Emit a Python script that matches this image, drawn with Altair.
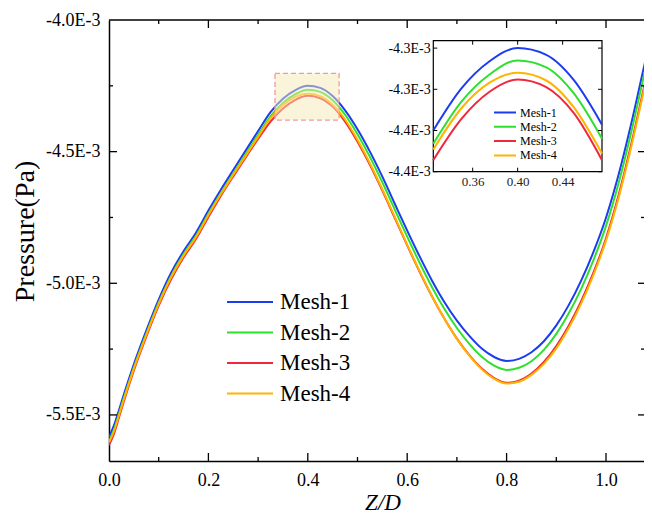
import altair as alt
import pandas as pd

# ---------------- data (pressure in units of 1E-3 Pa) ----------------
z = [0, 0.01, 0.02, 0.03, 0.04, 0.05, 0.075, 0.1, 0.125, 0.15, 0.175, 0.2,
     0.225, 0.25, 0.275, 0.3, 0.325, 0.35, 0.375, 0.4, 0.425, 0.45, 0.475,
     0.5, 0.525, 0.55, 0.575, 0.6, 0.625, 0.65, 0.675, 0.7, 0.725, 0.75,
     0.775, 0.8, 0.825, 0.85, 0.875, 0.9, 0.925, 0.95, 0.975, 1.0, 1.025,
     1.05, 1.075, 1.1]

mesh1 = [-5.584, -5.540, -5.482, -5.422, -5.364, -5.308, -5.180, -5.062, -4.960,
         -4.878, -4.808, -4.724, -4.645, -4.570, -4.496, -4.422, -4.350, -4.299,
         -4.266, -4.250, -4.258, -4.289, -4.343, -4.415, -4.500, -4.595, -4.698,
         -4.800, -4.898, -4.990, -5.072, -5.142, -5.200, -5.248, -5.280, -5.295,
         -5.287, -5.262, -5.220, -5.160, -5.083, -4.990, -4.880, -4.751, -4.590,
         -4.400, -4.190, -3.980]
mesh2 = [-5.600, -5.556, -5.496, -5.435, -5.376, -5.320, -5.192, -5.074, -4.972,
         -4.890, -4.820, -4.736, -4.658, -4.583, -4.510, -4.437, -4.366, -4.315,
         -4.282, -4.265, -4.273, -4.305, -4.360, -4.434, -4.520, -4.617, -4.720,
         -4.823, -4.922, -5.015, -5.098, -5.170, -5.230, -5.279, -5.313, -5.329,
         -5.321, -5.296, -5.253, -5.192, -5.114, -5.021, -4.911, -4.782, -4.622,
         -4.432, -4.222, -4.012]
mesh3 = [-5.614, -5.572, -5.510, -5.448, -5.388, -5.331, -5.203, -5.085, -4.985,
         -4.902, -4.832, -4.748, -4.668, -4.594, -4.522, -4.452, -4.386, -4.336,
         -4.303, -4.288, -4.297, -4.329, -4.386, -4.462, -4.550, -4.648, -4.752,
         -4.856, -4.956, -5.050, -5.135, -5.210, -5.273, -5.324, -5.360, -5.378,
         -5.370, -5.343, -5.299, -5.238, -5.161, -5.068, -4.958, -4.829, -4.668,
         -4.478, -4.268, -4.058]
mesh4 = [-5.604, -5.562, -5.502, -5.440, -5.381, -5.324, -5.196, -5.078, -4.977,
         -4.895, -4.825, -4.741, -4.662, -4.588, -4.516, -4.444, -4.373, -4.323,
         -4.292, -4.280, -4.289, -4.322, -4.378, -4.455, -4.544, -4.643, -4.748,
         -4.853, -4.954, -5.049, -5.135, -5.211, -5.275, -5.327, -5.363, -5.381,
         -5.374, -5.348, -5.306, -5.247, -5.170, -5.077, -4.967, -4.838, -4.678,
         -4.488, -4.278, -4.068]

names = ["Mesh-1", "Mesh-2", "Mesh-3", "Mesh-4"]
colors = ["#1c3cf0", "#2ee02e", "#f0283c", "#ffb400"]

x_labels = [0.0, 0.2, 0.4, 0.6, 0.8, 1.0]
x_major = [0.2, 0.4, 0.6, 0.8, 1.0]
x_minor = [0.1, 0.3, 0.5, 0.7, 0.9]
y_labels = [-4.0, -4.5, -5.0, -5.5]
y_major = [-4.5, -5.0, -5.5]
y_minor = [-4.25, -4.75, -5.25]

box_x = [0.334, 0.463]
box_y = [-4.2025, -4.38]

inset_x = [0.325, 0.475]
inset_y = [-4.40, -4.241]
inset_x_labels = [0.36, 0.40, 0.44]
inset_y_labels = [-4.25, -4.30, -4.35, -4.40]

# ---------------- build table ----------------
rows = []
for name, vals in zip(names, [mesh1, mesh2, mesh3, mesh4]):
    for zz, pp in zip(z, vals):
        rows.append({"z": zz, "p": pp, "mesh": name})
df = pd.DataFrame(rows)
df_in = df[(df.z >= inset_x[0] - 1e-9) & (df.z <= inset_x[1] + 1e-9)]

FONT = "Liberation Serif"
W, H = 535, 441
XMAX = 535 / 497
YMIN, YMAX = -5.675, -4.0

xs = alt.Scale(domain=[0, XMAX], nice=False, zero=False)
ys = alt.Scale(domain=[YMIN, YMAX], nice=False, zero=False)
lab = "(datum.value < 0 ? '-' : '') + format(abs(datum.value) + 1e-9, '.1f') + 'E-3'"

# inset geometry (pixels inside plot area)
IX0, IX1, IY0, IY1 = 324.3, 493.0, 20.7, 151.7
ixs = alt.Scale(domain=inset_x, range=[IX0, IX1], nice=False, zero=False)
iys = alt.Scale(domain=inset_y, range=[IY1, IY0], nice=False, zero=False)


def vticks(vals, ya, yb, scale, sw=1.3):
    return alt.Chart(pd.DataFrame({"v": vals})).mark_rule(color="black", strokeWidth=sw).encode(
        x=alt.X("v:Q", scale=scale, axis=None), y=alt.value(ya), y2=alt.value(yb))


def hticks(vals, xa, xb, scale, sw=1.3):
    return alt.Chart(pd.DataFrame({"v": vals})).mark_rule(color="black", strokeWidth=sw).encode(
        y=alt.Y("v:Q", scale=scale, axis=None), x=alt.value(xa), x2=alt.value(xb))


lines = alt.Chart(df).mark_line(strokeWidth=2, clip=True, interpolate="monotone").encode(
    x=alt.X("z:Q", scale=xs, axis=alt.Axis(
        values=x_labels, format=".1f", title="Z/D", ticks=False, tickSize=0, grid=False,
        domainColor="black", domainWidth=1.5, labelFont=FONT, labelFontSize=18,
        labelColor="black", labelPadding=10, titleFont=FONT, titleFontSize=23,
        titleFontStyle="italic", titleFontWeight="normal", titleColor="black",
        titlePadding=2, titleX=273.5, labelFlush=False)),
    y=alt.Y("p:Q", scale=ys, axis=alt.Axis(
        values=y_labels, labelExpr=lab, title="Pressure(Pa)", ticks=False, tickSize=0,
        grid=False, domainColor="black", domainWidth=1.5, labelFont=FONT,
        labelFontSize=18, labelColor="black", labelPadding=9, titleFont=FONT,
        titleFontSize=28, titleFontWeight="normal", titleColor="black",
        titlePadding=6, titleY=211, labelFlush=False)),
    color=alt.Color("mesh:N", scale=alt.Scale(domain=names, range=colors),
                    legend=alt.Legend(orient="none", legendX=117, legendY=267, title=None,
                                      labelFont=FONT, labelFontSize=23, labelColor="black",
                                      symbolType="stroke", symbolSize=2116,
                                      symbolStrokeWidth=2, clipHeight=30, rowPadding=0.5,
                                      labelOffset=6, padding=0)),
)

box = alt.Chart(pd.DataFrame({"x0": [box_x[0]], "x1": [box_x[1]],
                              "y0": [box_y[0]], "y1": [box_y[1]]})).mark_rect(
    fill="#f6e9b5", fillOpacity=0.5, stroke="#f29a9a", strokeDash=[5, 3], strokeWidth=1.3
).encode(x=alt.X("x0:Q", scale=xs, axis=None), x2="x1",
         y=alt.Y("y0:Q", scale=ys, axis=None), y2="y1")

top_spine = alt.Chart(pd.DataFrame({"a": [0]})).mark_rule(color="black", strokeWidth=1.5).encode(
    x=alt.value(0), x2=alt.value(W), y=alt.value(0))

main = alt.layer(
    lines, box, top_spine,
    vticks(x_major, H, H - 8, xs), vticks(x_minor, H, H - 4, xs),
    vticks(x_major, 0, 8, xs), vticks(x_minor, 0, 4, xs),
    hticks(y_major, 0, 8, ys), hticks(y_minor, 0, 4, ys),
    hticks(y_major, W - 6, W, ys), hticks(y_minor, W - 3, W, ys),
).resolve_axis(x="independent", y="independent")

# ---------------- inset ----------------
frame = alt.Chart(pd.DataFrame({"x0": [inset_x[0]], "x1": [inset_x[1]],
                                "y0": [inset_y[0]], "y1": [inset_y[1]]})).mark_rect(
    fill="white", stroke="black", strokeWidth=1.2
).encode(x=alt.X("x0:Q", scale=ixs, axis=None), x2="x1",
         y=alt.Y("y0:Q", scale=iys, axis=None), y2="y1")

ilines = alt.Chart(df_in).mark_line(strokeWidth=2, interpolate="monotone").encode(
    x=alt.X("z:Q", scale=ixs, axis=alt.Axis(
        orient="bottom", offset=-(H - IY1), values=inset_x_labels, format=".2f", title=None,
        ticks=False, tickSize=0, domain=False, grid=False, labelFont=FONT,
        labelFontSize=13, labelColor="#222222", labelPadding=4, labelFlush=False)),
    y=alt.Y("p:Q", scale=iys, axis=alt.Axis(
        orient="left", offset=-IX0, values=inset_y_labels, labelExpr=lab, title=None,
        ticks=False, tickSize=0, domain=False, grid=False, labelFont=FONT,
        labelFontSize=14, labelColor="black", labelPadding=3, labelFlush=False)),
    color=alt.Color("mesh:N", scale=alt.Scale(domain=names, range=colors),
                    legend=alt.Legend(orient="none", legendX=384, legendY=85.5, title=None,
                                      labelFont=FONT, labelFontSize=12, labelColor="black",
                                      symbolType="stroke", symbolSize=484,
                                      symbolStrokeWidth=2, clipHeight=14, rowPadding=0.3,
                                      labelOffset=3, padding=0)),
)

inset = alt.layer(
    frame, ilines,
    vticks(inset_x_labels, IY1, IY1 - 4, ixs, 1), vticks(inset_x_labels, IY0, IY0 + 4, ixs, 1),
    hticks(inset_y_labels, IX0, IX0 + 4, iys, 1), hticks(inset_y_labels, IX1 - 4, IX1, iys, 1),
).resolve_axis(x="independent", y="independent")

chart = alt.layer(main, inset).resolve_scale(
    x="independent", y="independent", color="independent"
).properties(
    width=W, height=H,
    autosize=alt.AutoSizeParams(type="none"),
    padding={"left": 101, "top": 12, "right": 0, "bottom": 55},
).configure_view(stroke=None)

chart.save("out.html", embed_options={"renderer": "svg", "actions": False})
